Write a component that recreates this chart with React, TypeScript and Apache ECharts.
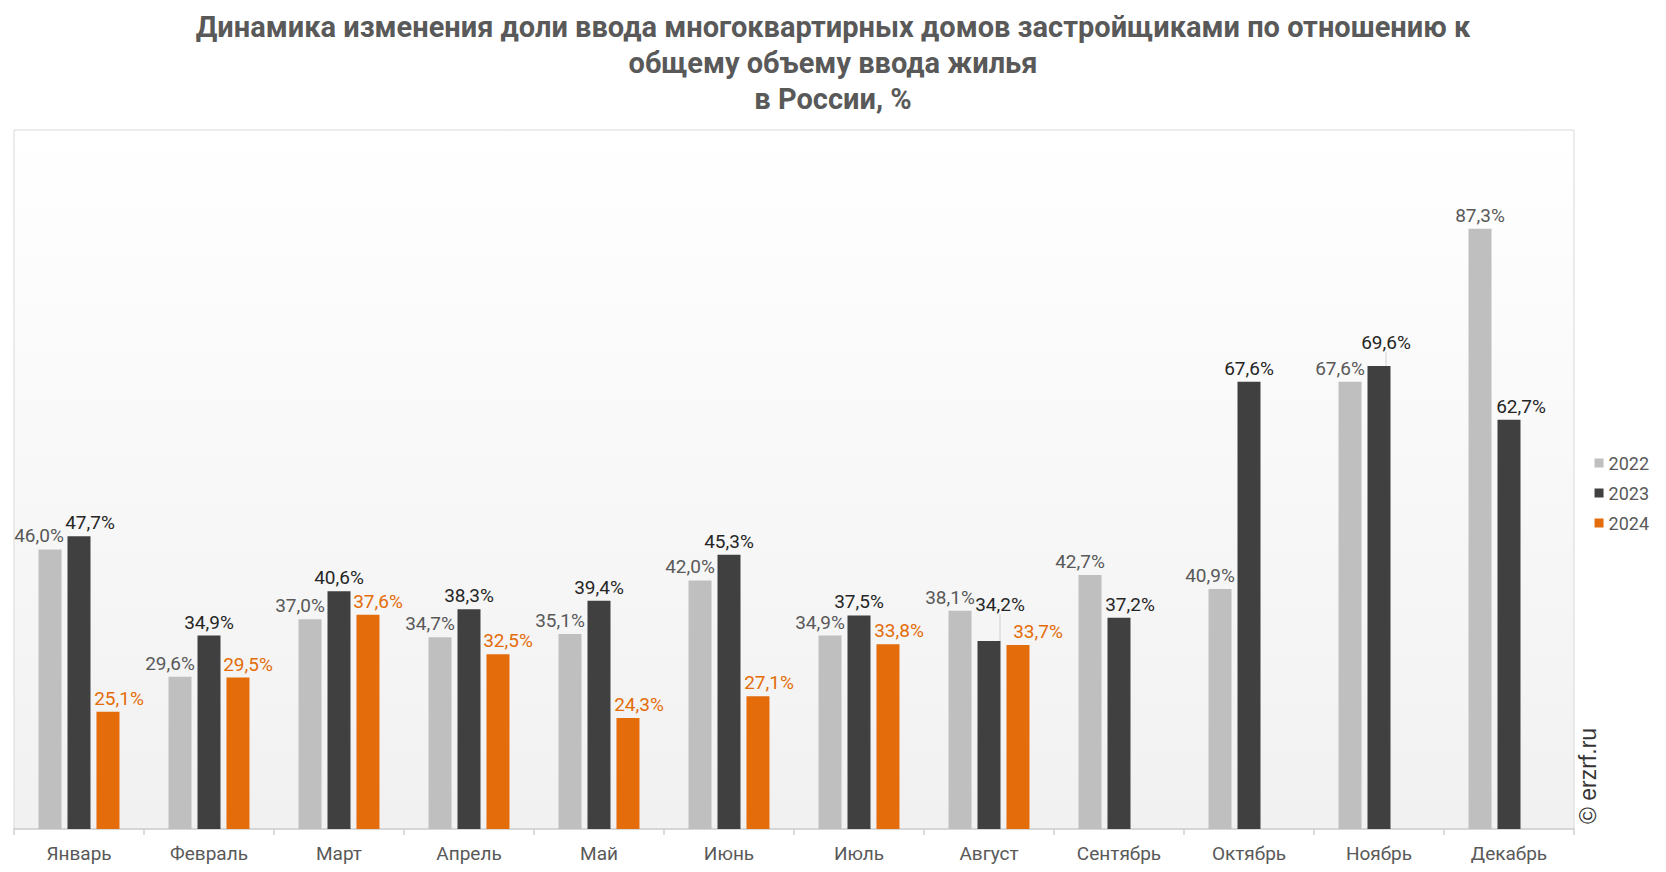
import React, { useEffect, useRef } from "react";
import * as echarts from "echarts";

const titleText =
  "Динамика изменения доли ввода многоквартирных домов застройщиками по отношению к\nобщему объему ввода жилья\nв России, %";
const months = ["Январь", "Февраль", "Март", "Апрель", "Май", "Июнь", "Июль", "Август", "Сентябрь", "Октябрь", "Ноябрь", "Декабрь"];
const years = ["2022", "2023", "2024"];
const v2022 = [46.0, 29.6, 37.0, 34.7, 35.1, 42.0, 34.9, 38.1, 42.7, 40.9, 67.6, 87.3];
const v2023 = [47.7, 34.9, 40.6, 38.3, 39.4, 45.3, 37.5, 34.2, 37.2, 67.6, 69.6, 62.7];
const v2024 = [25.1, 29.5, 37.6, 32.5, 24.3, 27.1, 33.8, 33.7, null, null, null, null];

const barColors = ["#bfbfbf", "#404040", "#e46c0a"];
const labelColors = ["#595959", "#262626", "#e36c09"];

// label nudges (px) per series, by month index
const labelOffsets: number[][][] = [
  [[-11, 0], [-10, 0], [-10, 0], [-10, 0], [-10, 0], [-10, 0], [-10, 0], [-10, 0], [-10, 0], [-10, 0], [-10, 0], [0, 0]],
  [[11, 0], [0, 0], [0, 0], [0, 0], [0, 0], [0, 0], [0, 0], [11, -23], [11, 0], [0, 0], [7, -10], [12, 0]],
  [[11, 0], [10, 0], [10, 0], [10, 0], [11, 0], [11, 0], [11, 0], [20, 0], [0, 0], [0, 0], [0, 0], [0, 0]],
];
// labels drawn with a leader line: [series, month]
const leaderLabels = [[1, 7], [1, 10]];

const fmt = (v: number) => v.toFixed(1).replace(".", ",") + "%";
const isLeader = (si: number, i: number) => leaderLabels.some(([s, m]) => s === si && m === i);

export default function App() {
  const ref = useRef<HTMLDivElement>(null);
  useEffect(() => {
    if (!ref.current) return;
    const chart = echarts.init(ref.current, null, { renderer: "svg" });
    const seriesVals = [v2022, v2023, v2024];
    const series = seriesVals.map((vals, si) => ({
      name: years[si],
      type: "bar",
      barWidth: 23,
      barGap: "26%",
      itemStyle: { color: barColors[si] },
      label: {
        show: true,
        position: "top",
        distance: 4,
        fontFamily: "Roboto",
        fontSize: 19,
        color: labelColors[si],
        formatter: (p: any) => fmt(p.value),
      },
      labelLine: { show: false, lineStyle: { color: "#d0d0d0", width: 1 } },
      labelLayout: (p: any) => {
        const [dx, dy] = labelOffsets[si][p.dataIndex] || [0, 0];
        return { dx, dy };
      },
      data: vals.map((v, i) =>
        v == null
          ? null
          : isLeader(si, i)
          ? { value: v, labelLine: { show: true } }
          : v
      ),
    }));
    chart.setOption({
      animation: false,
      backgroundColor: "#ffffff",
      title: {
        text: titleText,
        left: "center",
        top: 4,
        textStyle: {
          fontFamily: "Roboto",
          fontSize: 29,
          fontWeight: "bold",
          color: "#595959",
          lineHeight: 36,
        },
      },
      legend: {
        orient: "vertical",
        right: 12,
        top: 449,
        icon: "rect",
        itemWidth: 9,
        itemHeight: 9,
        itemGap: 12,
        data: years,
        textStyle: { fontFamily: "Roboto", fontSize: 18, color: "#595959" },
      },
      grid: {
        left: 14,
        right: 92,
        top: 130,
        bottom: 43,
        show: true,
        borderColor: "#d9d9d9",
        borderWidth: 1,
        backgroundColor: {
          type: "linear",
          x: 0,
          y: 0,
          x2: 0,
          y2: 1,
          colorStops: [
            { offset: 0, color: "#ffffff" },
            { offset: 1, color: "#f1f1f1" },
          ],
        },
      },
      xAxis: {
        type: "category",
        data: months,
        axisLine: { lineStyle: { color: "#d0d0d0", width: 1.5 } },
        axisTick: { show: true, length: 6, lineStyle: { color: "#d0d0d0", width: 1.5 } },
        axisLabel: { fontFamily: "Roboto", fontSize: 19, color: "#595959", margin: 15 },
      },
      yAxis: {
        type: "value",
        min: 10,
        max: 100,
        show: false,
        splitLine: { show: false },
      },
      graphic: [
        {
          type: "text",
          x: 1588,
          y: 776,
          rotation: Math.PI / 2,
          style: {
            text: "© erzrf.ru",
            fontFamily: "Liberation Sans",
            fontSize: 23,
            fill: "#333333",
            textAlign: "center",
            textVerticalAlign: "middle",
          },
        },
      ],
      series,
    });
    return () => chart.dispose();
  }, []);
  return (
    <div
      ref={ref}
      style={{ position: "absolute", left: 0, top: 0, width: 1666, height: 872 }}
    />
  );
}
